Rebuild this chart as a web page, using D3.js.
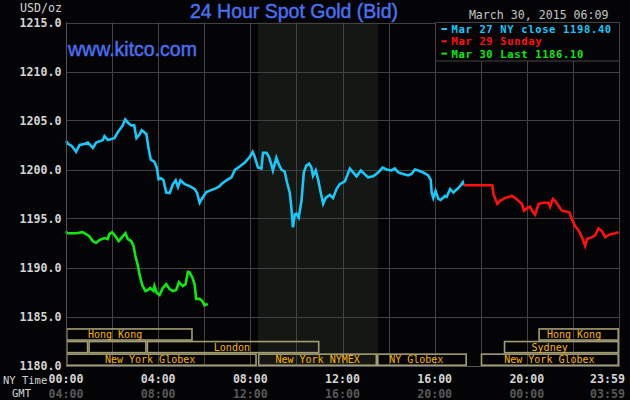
<!DOCTYPE html>
<html>
<head>
<meta charset="utf-8">
<script src="https://cdn.jsdelivr.net/npm/d3@7"></script>
<style>
  html, body { margin: 0; padding: 0; background: #040406; }
  svg { display: block; }
</style>
</head>
<body>
<svg id="chart" width="630" height="400"></svg>
<script>
// ---------- data ----------
const yTicks = [1180, 1185, 1190, 1195, 1200, 1205, 1210, 1215];
const gridHours = [0, 2, 4, 6, 8, 10, 12, 14, 16, 18, 20, 22, 24];
const xTickHours = [0, 4, 8, 12, 16, 20, 24];
const nyLabels = ["00:00", "04:00", "08:00", "12:00", "16:00", "20:00", "23:59"];
const gmtLabels = ["04:00", "08:00", "12:00", "16:00", "20:00", "00:00", "03:59"];

const cyanHours = [0, 0.1, 0.25, 0.44, 0.59, 0.8, 0.95, 1.17, 1.31, 1.6, 1.67, 1.82, 2.1, 2.25, 2.46, 2.57, 2.68, 2.83, 2.96, 3.06, 3.17, 3.29, 3.4, 3.49, 3.58, 3.68, 3.83, 3.94, 4.02, 4.13, 4.23, 4.35, 4.5, 4.64, 4.76, 4.86, 4.97, 5.15, 5.37, 5.59, 5.69, 5.8, 5.92, 6.09, 6.3, 6.52, 6.67, 6.74, 6.96, 7.18, 7.33, 7.54, 7.76, 7.98, 8.1, 8.19, 8.33, 8.48, 8.55, 8.7, 8.81, 8.91, 8.98, 9.06, 9.13, 9.24, 9.35, 9.49, 9.59, 9.71, 9.78, 9.85, 9.93, 10.0, 10.1, 10.22, 10.32, 10.43, 10.55, 10.65, 10.72, 10.84, 10.94, 11.04, 11.16, 11.27, 11.45, 11.59, 11.74, 11.88, 12.1, 12.2, 12.32, 12.46, 12.61, 12.8, 12.97, 13.11, 13.33, 13.55, 13.74, 13.91, 14.13, 14.27, 14.42, 14.63, 14.85, 15.0, 15.14, 15.29, 15.5, 15.72, 15.83, 15.87, 15.94, 16.04, 16.16, 16.26, 16.45, 16.52, 16.67, 16.81, 16.98, 17.1, 17.22, 17.25];
const cyanValues = [1202.9, 1202.6, 1202.4, 1201.8, 1202.5, 1202.6, 1202.75, 1202.2, 1202.75, 1203.0, 1203.4, 1203.0, 1203.2, 1203.8, 1204.5, 1205.1, 1204.8, 1204.5, 1204.5, 1203.2, 1203.5, 1204.0, 1203.8, 1203.6, 1202.2, 1201.0, 1200.8, 1200.2, 1199.0, 1199.1, 1198.9, 1197.65, 1197.6, 1198.5, 1198.9, 1198.2, 1198.9, 1198.5, 1198.3, 1198.0, 1197.6, 1196.6, 1197.1, 1197.7, 1197.9, 1198.1, 1198.3, 1198.5, 1198.9, 1199.2, 1199.96, 1200.3, 1200.7, 1201.3, 1201.8, 1201.3, 1200.2, 1200.1, 1201.7, 1201.7, 1201.3, 1200.5, 1199.9, 1200.6, 1201.2, 1200.5, 1200.0, 1199.8, 1198.7, 1197.65, 1196.1, 1194.1, 1195.4, 1195.5, 1195.1, 1196.8, 1199.7, 1200.4, 1200.6, 1200.2, 1199.35, 1199.9, 1199.0, 1197.8, 1196.5, 1197.1, 1197.4, 1197.1, 1198.0, 1198.5, 1198.8, 1199.35, 1200.1, 1199.7, 1199.3, 1199.9, 1199.5, 1199.2, 1199.3, 1199.7, 1200.2, 1200.0, 1199.9, 1200.1, 1199.7, 1199.55, 1199.4, 1199.55, 1200.0, 1199.9, 1199.7, 1199.4, 1198.95, 1197.65, 1197.1, 1197.8, 1197.0, 1196.9, 1197.3, 1197.2, 1198.0, 1197.65, 1198.0, 1198.3, 1198.7, 1198.4];

const redHours = [17.25, 18.5, 18.55, 18.72, 18.84, 19.06, 19.35, 19.49, 19.64, 19.78, 19.88, 20.03, 20.14, 20.22, 20.36, 20.51, 20.72, 20.94, 21.01, 21.13, 21.23, 21.37, 21.52, 21.74, 21.85, 21.96, 22.1, 22.24, 22.39, 22.53, 22.61, 22.83, 22.97, 23.11, 23.26, 23.4, 23.62, 23.84, 23.98];
const redValues = [1198.4, 1198.4, 1197.5, 1196.5, 1196.8, 1197.1, 1197.3, 1197.1, 1196.8, 1196.5, 1195.8, 1196.1, 1196.2, 1195.8, 1195.4, 1196.5, 1196.6, 1196.6, 1196.2, 1197.0, 1196.8, 1196.3, 1195.8, 1195.7, 1195.6, 1194.9, 1194.2, 1193.8, 1193.1, 1192.2, 1192.9, 1193.1, 1193.3, 1194.0, 1193.7, 1193.1, 1193.4, 1193.5, 1193.6];

const greenHours = [0, 0.05, 0.45, 0.72, 0.87, 1.01, 1.16, 1.3, 1.45, 1.67, 1.81, 1.88, 2.0, 2.14, 2.29, 2.43, 2.58, 2.68, 2.83, 2.93, 3.01, 3.11, 3.19, 3.26, 3.33, 3.45, 3.55, 3.65, 3.8, 3.84, 3.94, 4.06, 4.2, 4.35, 4.49, 4.64, 4.78, 4.9, 5.07, 5.19, 5.29, 5.36, 5.48, 5.58, 5.65, 5.8, 5.91, 6.01, 6.11, 6.15];
const greenValues = [1193.7, 1193.5, 1193.5, 1193.6, 1193.4, 1193.2, 1192.7, 1192.5, 1192.8, 1193.0, 1192.9, 1193.4, 1193.6, 1193.2, 1192.7, 1193.1, 1193.5, 1192.9, 1192.7, 1192.2, 1191.2, 1190.3, 1189.3, 1188.6, 1188.1, 1187.6, 1187.7, 1187.9, 1187.6, 1188.1, 1187.4, 1187.2, 1187.9, 1188.3, 1187.8, 1187.6, 1187.7, 1188.5, 1188.1, 1188.3, 1189.55, 1189.5, 1189.0, 1188.3, 1186.8, 1186.8, 1186.6, 1186.15, 1186.25, 1186.3];

const legendLabels = ["Mar 27 NY close 1198.40", "Mar 29 Sunday", "Mar 30 Last 1186.10"];
const seriesColors = ["#18c8f8", "#ff1010", "#10e810"];

// market session boxes: row 0 = top, 2 = bottom
const marketNames  = ["Hong Kong", "Hong Kong", "", "", "London", "Sydney", "New York Globex", "New York NYMEX", "NY Globex", "New York Globex"];
const marketRows   = [0, 0, 1, 1, 1, 1, 2, 2, 2, 2];
const marketStart  = [0, 20.5, 0, 0.97, 3.5, 19.0, 0, 8.33, 13.5, 18.0];
const marketEnd    = [5.5, 24, 0.97, 3.5, 11.0, 24, 8.28, 13.5, 17.4, 24];
const marketLabelAt = [2.13, 22.05, 0, 0, 7.2, 20.99, 3.65, 10.92, 15.2, 20.98];

const nymexShade = [8.33, 13.55];

// ---------- drawing ----------
const svg = d3.select("#chart");
const W = 630, H = 400;
const pL = 66, pR = 619, pT = 22.5, pB = 365.5;

svg.append("rect").attr("width", W).attr("height", H).attr("fill", "#040406");

const x = d3.scaleLinear().domain([0, 24]).range([pL, pR]);
const y = d3.scaleLinear().domain([1180, 1215]).range([pB, pT]);
const crisp = v => Math.round(v) + 0.5;

// shaded NYMEX session
svg.append("rect")
  .attr("x", x(nymexShade[0])).attr("y", pT)
  .attr("width", x(nymexShade[1]) - x(nymexShade[0]))
  .attr("height", pB - pT)
  .attr("fill", "#141713");

// grid
const gridColor = "#424242";
svg.append("g").selectAll("line").data(yTicks).join("line")
  .attr("x1", pL).attr("x2", pR)
  .attr("y1", d => crisp(y(d))).attr("y2", d => crisp(y(d)))
  .attr("stroke", gridColor).attr("stroke-width", 1);
svg.append("g").selectAll("line").data(gridHours).join("line")
  .attr("x1", d => crisp(x(d))).attr("x2", d => crisp(x(d)))
  .attr("y1", pT).attr("y2", pB + 1)
  .attr("stroke", gridColor).attr("stroke-width", 1);

// market boxes
const rowH = 12.6;
const boxBottom = pB + 0.5;
const markets = marketNames.map((n, i) => ({name: n, row: marketRows[i], s: marketStart[i], e: marketEnd[i], l: marketLabelAt[i]}));
const mg = svg.append("g");
mg.selectAll("rect").data(markets).join("rect")
  .attr("x", d => x(d.s) + 0.75)
  .attr("y", d => boxBottom - (3 - d.row) * rowH + 0.75)
  .attr("width", d => x(d.e) - x(d.s) - 1.5)
  .attr("height", rowH - 1.5)
  .attr("fill", "none")
  .attr("stroke", "#a29e72")
  .attr("stroke-width", 1.6);
mg.selectAll("text").data(markets.filter(d => d.name)).join("text")
  .attr("x", d => x(d.l))
  .attr("y", d => boxBottom - (2 - d.row) * rowH - 2.8)
  .attr("text-anchor", "middle")
  .attr("font-family", "DejaVu Sans Mono, monospace")
  .attr("font-size", "10px")
  .attr("fill", "#f8b400")
  .text(d => d.name);

// series lines
const line = d3.line().x(d => x(d[0])).y(d => y(d[1]));
const series = [
  [cyanHours, cyanValues],
  [redHours, redValues],
  [greenHours, greenValues]
];
series.forEach((s, i) => {
  const pts = s[0].map((h, j) => [h, s[1][j]]);
  svg.append("path").datum(pts)
    .attr("d", line)
    .attr("fill", "none")
    .attr("stroke", seriesColors[i])
    .attr("stroke-width", 2.6)
    .attr("stroke-linejoin", "miter");
});

// plot frame (left / bottom)
svg.append("line").attr("x1", pL + 0.5).attr("x2", pL + 0.5).attr("y1", pT).attr("y2", pB + 1)
  .attr("stroke", "#555").attr("stroke-width", 1);
svg.append("line").attr("x1", pL).attr("x2", pR + 1).attr("y1", crisp(pB)).attr("y2", crisp(pB))
  .attr("stroke", "#555").attr("stroke-width", 1);

// legend box
const lgX = crisp(x(16)), lgY = pT, lgW = crisp(x(24)) - crisp(x(16)), lgH = 38.5;
svg.append("rect").attr("x", lgX).attr("y", lgY).attr("width", lgW).attr("height", lgH)
  .attr("fill", "#040406").attr("stroke", gridColor).attr("stroke-width", 1);
const lg = svg.append("g");
legendLabels.forEach((t, i) => {
  const by = 33 + i * 12.3;
  lg.append("rect").attr("x", 441.5).attr("y", by - 5).attr("width", 5.5).attr("height", 2)
    .attr("fill", seriesColors[i]);
  lg.append("text").attr("x", 451.5).attr("y", by)
    .attr("font-family", "DejaVu Sans Mono, monospace")
    .attr("font-size", "10.5px").attr("font-weight", "bold")
    .attr("letter-spacing", "0.65px")
    .attr("fill", seriesColors[i]).text(t);
});

// y axis labels
const mono = "DejaVu Sans Mono, monospace";
svg.append("g").selectAll("text").data(yTicks).join("text")
  .attr("x", 61.5).attr("y", d => y(d) + 4.3)
  .attr("text-anchor", "end")
  .attr("font-family", mono).attr("font-size", "11.6px").attr("font-weight", "bold")
  .attr("fill", "#d4d4d4")
  .text(d => d3.format(".1f")(d));
svg.append("text").attr("x", 20).attr("y", 12)
  .attr("font-family", mono).attr("font-size", "11.6px")
  .attr("fill", "#d4d4d4").text("USD/oz");

// x axis labels
svg.append("g").selectAll("text").data(xTickHours).join("text")
  .attr("x", (d, i) => i === xTickHours.length - 1 ? 625 : x(d))
  .attr("y", 382.5)
  .attr("text-anchor", (d, i) => i === xTickHours.length - 1 ? "end" : "middle")
  .attr("font-family", mono).attr("font-size", "11.6px").attr("font-weight", "bold")
  .attr("fill", "#d4d4d4")
  .text((d, i) => nyLabels[i]);
svg.append("g").selectAll("text").data(xTickHours).join("text")
  .attr("x", (d, i) => i === xTickHours.length - 1 ? 625 : x(d))
  .attr("y", 397.5)
  .attr("text-anchor", (d, i) => i === xTickHours.length - 1 ? "end" : "middle")
  .attr("font-family", mono).attr("font-size", "11.6px").attr("font-weight", "bold")
  .attr("fill", "#585858")
  .text((d, i) => gmtLabels[i]);
svg.append("text").attr("x", 3).attr("y", 384)
  .attr("font-family", mono).attr("font-size", "10.5px")
  .attr("fill", "#d4d4d4").text("NY Time");
svg.append("text").attr("x", 12).attr("y", 397)
  .attr("font-family", mono).attr("font-size", "10.5px")
  .attr("fill", "#d4d4d4").text("GMT");

// title, site, timestamp
svg.append("text").attr("x", 294).attr("y", 17.5)
  .attr("text-anchor", "middle")
  .attr("font-family", "Liberation Sans, Arial, sans-serif")
  .attr("font-size", "19.5px")
  .attr("fill", "#4a70f0").attr("stroke", "#4a70f0").attr("stroke-width", 0.45)
  .text("24 Hour Spot Gold (Bid)");
svg.append("text").attr("x", 68).attr("y", 55.5)
  .attr("font-family", "Liberation Sans, Arial, sans-serif")
  .attr("font-size", "19.5px")
  .attr("fill", "#4a70f0").attr("stroke", "#4a70f0").attr("stroke-width", 0.45)
  .text("www.kitco.com");
svg.append("text").attr("x", 608.5).attr("y", 18.5)
  .attr("text-anchor", "end")
  .attr("font-family", mono).attr("font-size", "11.6px")
  .attr("fill", "#c4c4c4").text("March 30, 2015 06:09");
</script>
</body>
</html>
